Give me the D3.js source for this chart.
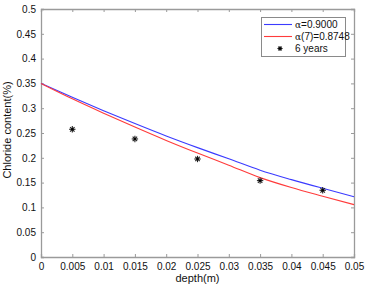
<!DOCTYPE html>
<html>
<head>
<meta charset="utf-8">
<script src="https://cdn.jsdelivr.net/npm/d3@7"></script>
<style>
  body { margin: 0; background: #fff; }
  svg { display: block; font-family: "Liberation Sans", Arial, sans-serif; }
</style>
</head>
<body>
<div id="chart"></div>
<script>
// depth grid (m) for the two model curves
const depth = [0, 0.005, 0.01, 0.015, 0.02, 0.025, 0.03, 0.035, 0.04, 0.045, 0.05];
// alpha = 0.9000
const blueVals = [0.350, 0.322, 0.295, 0.269, 0.244, 0.2205, 0.198, 0.175, 0.156, 0.1385, 0.1216];
// alpha(7) = 0.8748
const redVals = [0.350, 0.319, 0.290, 0.262, 0.235, 0.2095, 0.185, 0.160, 0.140, 0.1225, 0.1056];
// measured, 6 years
const obsDepth = [0.005, 0.015, 0.025, 0.035, 0.045];
const obsVals = [0.2575, 0.238, 0.1976, 0.154, 0.1345];

const xTicks = [0, 0.005, 0.01, 0.015, 0.02, 0.025, 0.03, 0.035, 0.04, 0.045, 0.05];
const yTicks = [0, 0.05, 0.1, 0.15, 0.2, 0.25, 0.3, 0.35, 0.4, 0.45, 0.5];

const width = 368, height = 291;
const margin = {top: 9, right: 14, bottom: 34, left: 41};
const axisColor = "#9a9a9a";

const svg = d3.select("#chart").append("svg")
    .attr("width", width)
    .attr("height", height);

const x = d3.scaleLinear().domain([0, 0.05]).range([margin.left, width - margin.right]);
const y = d3.scaleLinear().domain([0, 0.5]).range([height - margin.bottom, margin.top]);

// axes (MATLAB style box with inward ticks)
const xAxis = d3.axisBottom(x).tickValues(xTicks).tickSize(-3).tickPadding(6)
    .tickFormat(d => d === 0 ? "0" : String(+d.toFixed(3)));
const yAxis = d3.axisLeft(y).tickValues(yTicks).tickSize(-3).tickPadding(5)
    .tickFormat(d => d === 0 ? "0" : String(+d.toFixed(2)));

const gx = svg.append("g").attr("transform", `translate(0,${y(0)})`).call(xAxis);
const gy = svg.append("g").attr("transform", `translate(${x(0)},0)`).call(yAxis);
// top and right ticks
const gxt = svg.append("g").attr("transform", `translate(0,${y(0.5)})`)
    .call(d3.axisTop(x).tickValues(xTicks).tickSize(-3).tickFormat(""));
const gyr = svg.append("g").attr("transform", `translate(${x(0.05)},0)`)
    .call(d3.axisRight(y).tickValues(yTicks).tickSize(-3).tickFormat(""));

[gx, gy, gxt, gyr].forEach(g => {
    g.select(".domain").attr("stroke", axisColor).attr("stroke-width", 1.3);
    g.selectAll(".tick line").attr("stroke", axisColor);
    g.selectAll(".tick text").attr("fill", "#111").attr("font-size", "10px")
        .attr("font-family", "Liberation Sans, Arial, sans-serif");
});

// axis labels
svg.append("text")
    .attr("x", x(0.025)).attr("y", 282)
    .attr("text-anchor", "middle")
    .attr("font-size", "11px").attr("fill", "#111")
    .text("depth(m)");

svg.append("text")
    .attr("transform", `translate(11,${y(0.25) - 3}) rotate(-90)`)
    .attr("text-anchor", "middle")
    .attr("font-size", "11px").attr("fill", "#111")
    .text("Chloride content(%)");

// curves
const line = d3.line()
    .x(d => x(d[0]))
    .y(d => y(d[1]))
    .curve(d3.curveMonotoneX);

svg.append("path")
    .datum(depth.map((d, i) => [d, blueVals[i]]))
    .attr("fill", "none").attr("stroke", "#3b3bff").attr("stroke-width", 1.1)
    .attr("d", line);

svg.append("path")
    .datum(depth.map((d, i) => [d, redVals[i]]))
    .attr("fill", "none").attr("stroke", "#ff3b3b").attr("stroke-width", 1.1)
    .attr("d", line);

// asterisk marker
function star(g, cx, cy, r) {
    const s = r * 0.7;
    const segs = [[-r, 0, r, 0], [0, -r, 0, r], [-s, -s, s, s], [-s, s, s, -s]];
    segs.forEach(p => g.append("line")
        .attr("x1", cx + p[0]).attr("y1", cy + p[1])
        .attr("x2", cx + p[2]).attr("y2", cy + p[3])
        .attr("stroke", "#222").attr("stroke-width", 1.1));
    g.append("circle").attr("cx", cx).attr("cy", cy).attr("r", 1.2).attr("fill", "#000");
}

const pts = svg.append("g");
obsDepth.forEach((d, i) => star(pts, x(d), y(obsVals[i]), 3.2));

// legend
const lg = svg.append("g");
lg.append("rect")
    .attr("x", 261.5).attr("y", 17.5).attr("width", 84).attr("height", 39)
    .attr("fill", "#fff").attr("stroke", "#8a8a8a").attr("stroke-width", 1);

const legendItems = [
    {label: "=0.9000", pre: "α", color: "#3b3bff", yy: 24.5},
    {label: "(7)=0.8748", pre: "α", color: "#ff3b3b", yy: 36.5},
    {label: "6 years", pre: "", color: null, yy: 48.5}
];

legendItems.forEach(it => {
    if (it.color) {
        lg.append("line")
            .attr("x1", 264).attr("x2", 292)
            .attr("y1", it.yy).attr("y2", it.yy)
            .attr("stroke", it.color).attr("stroke-width", 1.1);
    } else {
        star(lg, 280, it.yy, 2.6);
    }
    const t = lg.append("text")
        .attr("x", 295).attr("y", it.yy + 3.5)
        .attr("font-size", "10px").attr("fill", "#111");
    if (it.pre) t.append("tspan").attr("font-family", "DejaVu Serif, serif").attr("font-size", "9px").text(it.pre);
    t.append("tspan").text(it.label);
});
</script>
</body>
</html>
